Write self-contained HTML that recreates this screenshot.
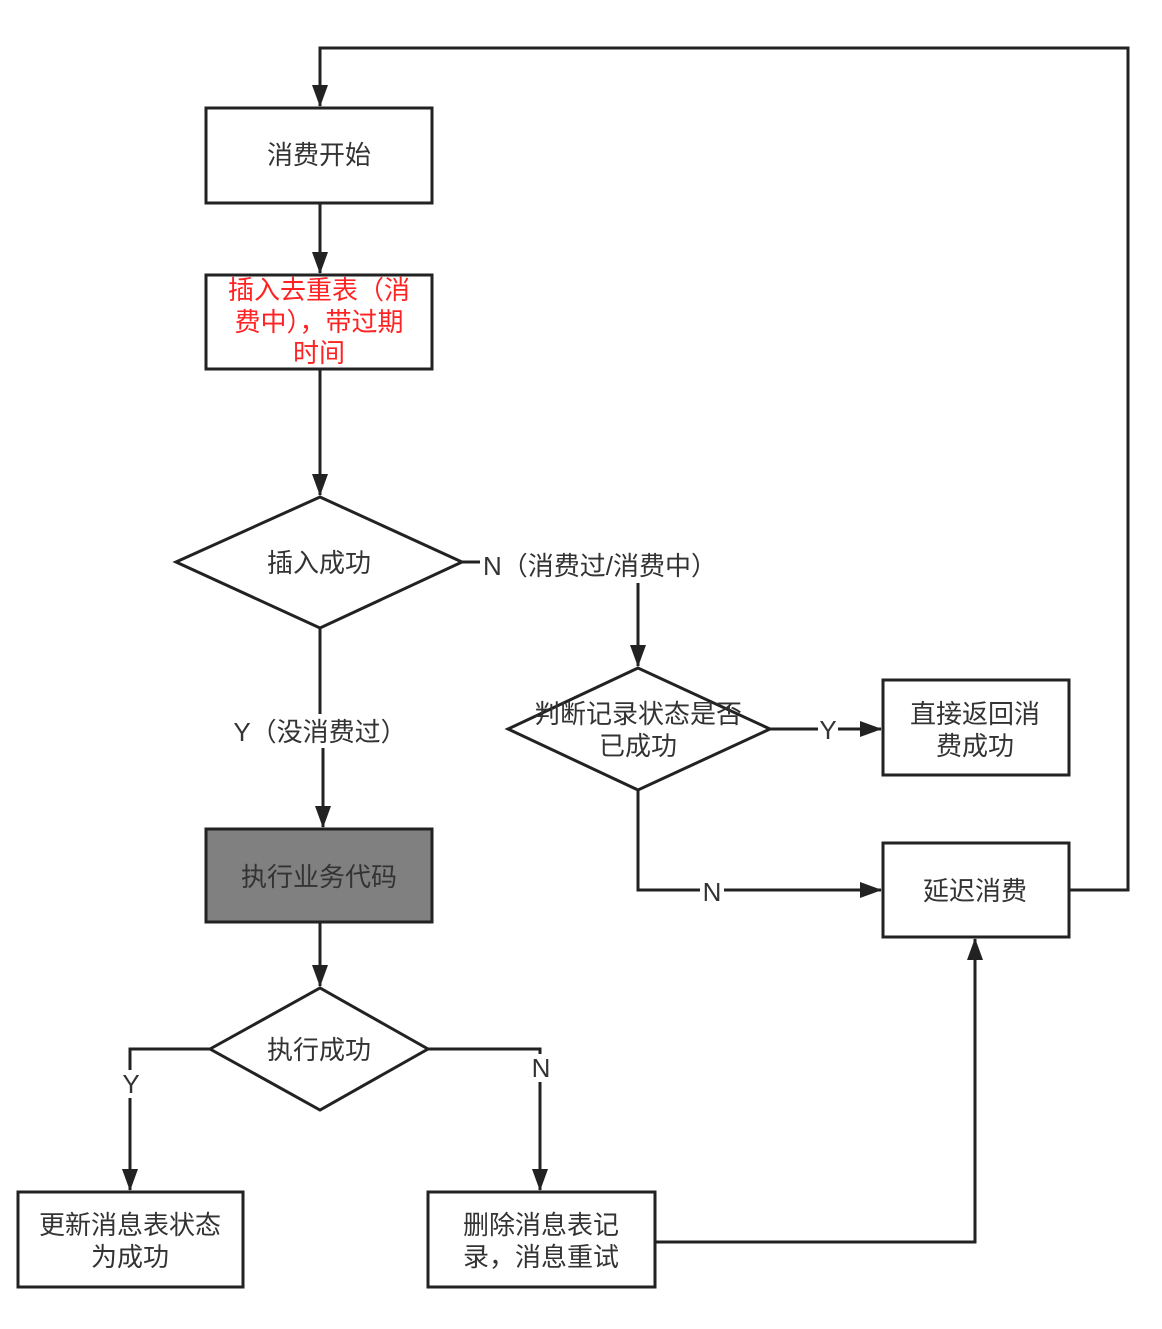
<!DOCTYPE html>
<html><head><meta charset="utf-8"><style>
html,body{margin:0;padding:0;background:#fff;}
svg text{font-family:"Liberation Sans","Noto Sans CJK SC",sans-serif;font-size:26px;fill:#333;}
</style></head><body>
<svg width="1162" height="1324" viewBox="0 0 1162 1324" xmlns="http://www.w3.org/2000/svg">
<defs>
<marker id="b" markerWidth="22" markerHeight="16" refX="21" refY="8" orient="auto" markerUnits="userSpaceOnUse"><path d="M0,0 L22,8 L0,16 z" fill="#222"/></marker></defs>
<g fill="none" stroke="#222" stroke-width="3">
<polyline points="1069,890 1128,890 1128,48 320,48 320,106" marker-end="url(#b)"/>
<line x1="320" y1="203" x2="320" y2="273" marker-end="url(#b)"/>
<line x1="320" y1="369" x2="320" y2="495" marker-end="url(#b)"/>
<line x1="462" y1="562" x2="480" y2="562"/>
<line x1="638" y1="583" x2="638" y2="666" marker-end="url(#b)"/>
<line x1="770" y1="729" x2="818" y2="729"/>
<line x1="838" y1="729" x2="881" y2="729" marker-end="url(#b)"/>
<polyline points="638,790 638,890 700,890"/>
<line x1="724" y1="890" x2="881" y2="890" marker-end="url(#b)"/>
<line x1="320" y1="628" x2="320" y2="714"/>
<line x1="323" y1="748" x2="323" y2="827" marker-end="url(#b)"/>
<line x1="320" y1="922" x2="320" y2="986" marker-end="url(#b)"/>
<polyline points="210,1049 130,1049 130,1070"/>
<line x1="130" y1="1098" x2="130" y2="1190" marker-end="url(#b)"/>
<polyline points="428,1049 540,1049 540,1054"/>
<line x1="540" y1="1082" x2="540" y2="1190" marker-end="url(#b)"/>
<polyline points="655,1242 975,1242 975,939" marker-end="url(#b)"/>
<rect x="206" y="108" width="226" height="95" fill="#fff"/>
<rect x="206" y="275" width="226" height="94" fill="#fff"/>
<polygon points="176,562 320,497 462,562 320,628" fill="#fff"/>
<polygon points="508,729 638,668 770,729 638,790" fill="#fff"/>
<rect x="883" y="680" width="186" height="95" fill="#fff"/>
<rect x="883" y="843" width="186" height="94" fill="#fff"/>
<rect x="206" y="829" width="226" height="93" fill="#808080"/>
<polygon points="210,1049 320,988 428,1049 320,1110" fill="#fff"/>
<rect x="18" y="1192" width="225" height="95" fill="#fff"/>
<rect x="428" y="1192" width="227" height="95" fill="#fff"/>
</g>
<g text-anchor="middle">
<text x="319" y="164">消费开始</text>
<text x="319" y="299" style="fill:#f22">插入去重表（消</text>
<text x="319" y="331" style="fill:#f22">费中），带过期</text>
<text x="319" y="362" style="fill:#f22">时间</text>
<text x="319" y="572">插入成功</text>
<text x="600" y="575">N（消费过/消费中）</text>
<text x="638" y="723">判断记录状态是否</text>
<text x="638" y="755">已成功</text>
<text x="828" y="739">Y</text>
<text x="975" y="723">直接返回消</text>
<text x="975" y="755">费成功</text>
<text x="712" y="901">N</text>
<text x="975" y="900">延迟消费</text>
<text x="320" y="741">Y（没消费过）</text>
<text x="319" y="886">执行业务代码</text>
<text x="319" y="1059">执行成功</text>
<text x="131" y="1093">Y</text>
<text x="541" y="1077">N</text>
<text x="130" y="1234">更新消息表状态</text>
<text x="130" y="1266">为成功</text>
<text x="541" y="1234">删除消息表记</text>
<text x="541" y="1266">录，消息重试</text>
</g>
</svg>
</body></html>
